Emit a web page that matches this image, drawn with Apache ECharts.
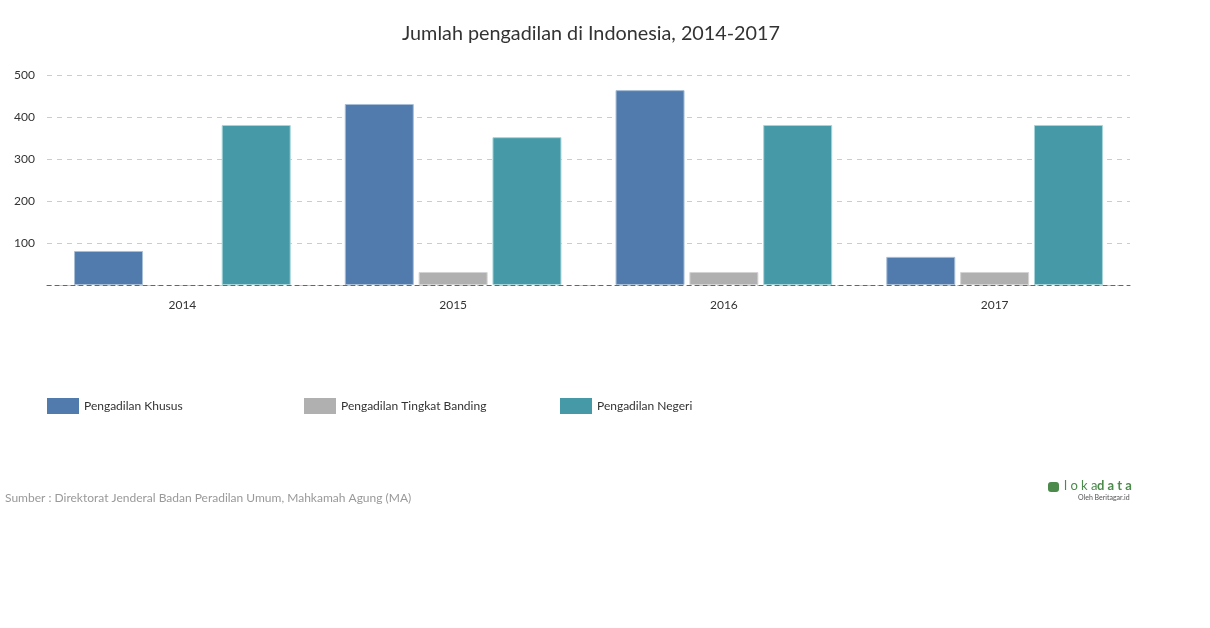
<!DOCTYPE html>
<html>
<head>
<meta charset="utf-8">
<script src="https://cdn.jsdelivr.net/npm/echarts@6/dist/echarts.min.js"></script>
<style>html,body{margin:0;padding:0;background:#fff}#c{width:1210px;height:628px}</style>
</head>
<body>
<div id="c"></div>
<script>
var categories = ['2014', '2015', '2016', '2017'];
var khusus = [81, 431, 464, 67];
var banding = [null, 31, 31, 31];
var negeri = [381, 352, 381, 381];
var seriesNames = ['Pengadilan Khusus', 'Pengadilan Tingkat Banding', 'Pengadilan Negeri'];
var yTicks = [0, 100, 200, 300, 400, 500];

var colors = ['#517bad', '#b0b0b0', '#4699a6'];
var borders = ['#a9bfd8', '#d4d4d4', '#a6d6da'];
var font = 'Lato, "Open Sans", sans-serif';

var chart = echarts.init(document.getElementById('c'));
var dataSets = [khusus, banding, negeri];
var series = seriesNames.map(function (n, i) {
  return {
    name: n, type: 'bar', data: dataSets[i], barWidth: 69, barGap: '7%',
    itemStyle: { color: colors[i], borderColor: borders[i], borderWidth: 1 }
  };
});
var legendLefts = [42, 299, 555];
var legends = seriesNames.map(function (n, i) {
  return {
    data: [n], left: legendLefts[i], top: 393, itemWidth: 32, itemHeight: 16, itemGap: 5,
    icon: 'rect', selectedMode: false,
    itemStyle: { borderWidth: 0 },
    textStyle: { fontFamily: font, fontSize: 12, color: '#333' }
  };
});
chart.setOption({
  animation: false,
  color: colors,
  title: {
    text: 'Jumlah pengadilan di Indonesia, 2014-2017', left: 397, top: 19,
    textStyle: { fontFamily: font, fontSize: 19.8, fontWeight: 'normal', color: '#333' }
  },
  legend: legends,
  grid: { left: 47, right: 80, top: 75, bottom: 343, containLabel: false },
  xAxis: {
    type: 'category', data: categories,
    axisLine: { show: true, lineStyle: { color: '#666', type: [4, 4], width: 1 }, z: 10 },
    axisTick: { show: false },
    axisLabel: { fontFamily: font, fontSize: 12, color: '#333', margin: 14 },
    z: 10
  },
  yAxis: {
    type: 'value', min: yTicks[0], max: yTicks[yTicks.length - 1], interval: 100,
    axisLine: { show: false }, axisTick: { show: false },
    axisLabel: {
      fontFamily: font, fontSize: 12, color: '#333', margin: 12,
      formatter: function (v) { return v === 0 ? '' : String(v); }
    },
    splitLine: { lineStyle: { color: '#ccc', type: [5, 5] } }
  },
  series: series,
  graphic: [
    { type: 'text', left: 5, top: 492, style: { text: 'Sumber : Direktorat Jenderal Badan Peradilan Umum, Mahkamah Agung (MA)', fontFamily: font, fontSize: 12, fill: '#999' } },
    { type: 'rect', left: 1048, top: 482, shape: { width: 11, height: 10, r: 3 }, style: { fill: '#4b8a4b' } },
    { type: 'text', left: 1064, top: 479, style: { text: 'l o k a ', fontFamily: font, fontSize: 13, fill: '#4b8a4b' } },
    { type: 'text', left: 1097, top: 479, style: { text: 'd a t a', fontFamily: font, fontSize: 13, fontWeight: 'bold', fill: '#4b8a4b' } },
    { type: 'text', left: 1078, top: 494, style: { text: 'Oleh Beritagar.id', fontFamily: font, fontSize: 7, fill: '#555' } }
  ]
});
</script>
</body>
</html>
